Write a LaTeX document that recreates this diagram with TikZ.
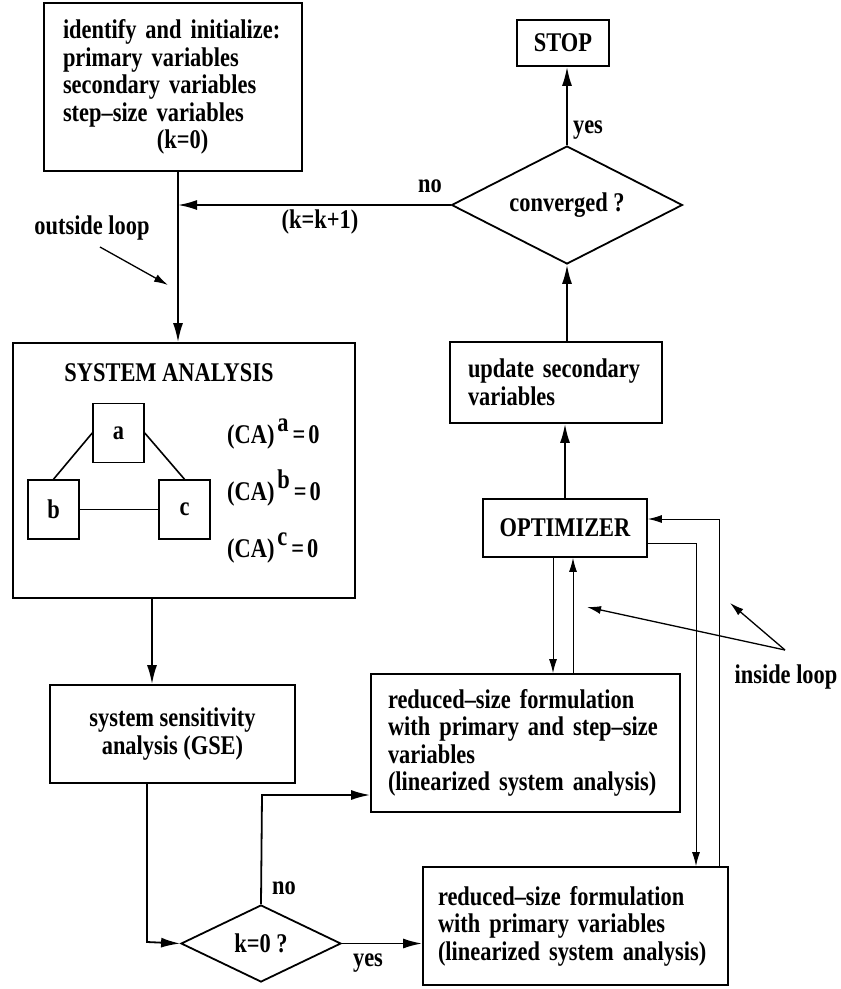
\documentclass[tikz,border=0pt]{standalone}
\usepackage{fontspec}
\setmainfont{Liberation Serif}[FakeStretch=0.83]
\usetikzlibrary{shapes.geometric,arrows.meta}
\begin{document}
\begin{tikzpicture}[x=1pt,y=-1pt,
  every node/.style={font=\fontsize{27}{27.5}\selectfont\bfseries},
  box/.style={draw, rectangle, line width=1.8pt, inner sep=0pt},
  lbox/.style={box, align=left},
  dec/.style={draw, diamond, line width=1.8pt, inner sep=0pt},
  small/.style={draw, rectangle, line width=1.5pt, inner sep=0pt, minimum width=51pt, minimum height=59pt},
  lab/.style={inner sep=0pt},
  thick arrow/.style={line width=1.8pt, -{Latex[length=19pt,width=10pt]}},
  thin arrow/.style={line width=1pt, -{Latex[length=14pt,width=8pt]}},
  thick line/.style={line width=1.6pt},
  thin line/.style={line width=1pt}]
\useasboundingbox (0,0) rectangle (841,989);

% nodes
\node[lbox, text width=220pt, inner xsep=19pt, minimum height=168pt] (init) at (173,87)
  {identify and initialize:\\primary variables\\secondary variables\\step–size variables\\\hspace*{94pt}(k=0)};
\node[box, minimum width=92pt, minimum height=46pt] (stop) at (563,43) {STOP};
\node[dec, aspect=1.96, minimum width=231pt, minimum height=118pt] (conv) at (567,205) {converged ?};
\node[lbox, text width=176pt, inner xsep=18pt, minimum height=81pt] (upd) at (556,382.5)
  {update secondary\\variables};
\node[box, minimum width=164pt, minimum height=58pt] (opt) at (565,528) {OPTIMIZER};
\node[lbox, text width=275pt, inner xsep=17pt, minimum height=138pt] (box1) at (525.5,743)
  {reduced–size formulation\\with primary and step–size\\variables\\(linearized system analysis)};
\node[lbox, text width=275pt, inner xsep=15pt, minimum height=118pt] (box2) at (575.5,926)
  {reduced–size formulation\\with primary variables\\(linearized system analysis)};
\node[box, minimum width=342pt, minimum height=255pt] (sa) at (184,470.5) {};
\node[lab] (satitle) at (169,373) {SYSTEM ANALYSIS};
\node[small] (a) at (118.5,433) {a};
\node[small] (b) at (53.5,509.5) {b};
\node[small] (c) at (184.5,509.5) {c};
\node[lab, anchor=base west] (eqa) at (227,443) {(CA)\hspace{3pt}\raisebox{12pt}{a}\hspace{4pt}=\hspace{3pt}0};
\node[lab, anchor=base west] (eqb) at (227,500) {(CA)\hspace{3pt}\raisebox{12pt}{b}\hspace{4pt}=\hspace{3pt}0};
\node[lab, anchor=base west] (eqc) at (227,557) {(CA)\hspace{3pt}\raisebox{12pt}{c}\hspace{4pt}=\hspace{3pt}0};
\node[box, align=center, minimum width=245pt, minimum height=98pt] (gse) at (172.5,734)
  {system sensitivity\\analysis (GSE)};
\node[dec, aspect=2.08, minimum width=160pt, minimum height=77pt] (kz) at (261,943.5) {k=0 ?};

% labels
\node[lab] (outl) at (92,228) {outside loop};
\node[lab] (kk) at (320,222) {(k=k+1)};
\node[lab] (no1) at (430,186) {no};
\node[lab] (yes1) at (588,130) {yes};
\node[lab] (no2) at (284,888) {no};
\node[lab] (yes2) at (368,963) {yes};
\node[lab] (inl) at (786,677) {inside loop};

% coordinates
\coordinate (mx) at (178,0);
\coordinate (p1) at (147,942);
\coordinate (p2) at (262,795);
\coordinate (q1) at (553,0);
\coordinate (q2) at (573,0);
\coordinate (r1) at (696,543);
\coordinate (r2) at (719,519);
\coordinate (ol1) at (100,247);
\coordinate (ol2) at (168,285);
\coordinate (il0) at (785,650);
\coordinate (il1) at (587,607);
\coordinate (il2) at (730,603);

% connectors
\draw[thick arrow] (init.south -| mx) -- (sa.north -| mx);
\draw[thick arrow] (conv.west) -- (conv.west -| mx);
\draw[thick arrow] (conv.north) -- (stop.south -| conv.north);
\draw[thick arrow] (upd.north -| conv.south) -- (conv.south);
\draw[thick arrow] (opt.north) -- (upd.south -| opt.north);
\draw[thick arrow] (sa.south -| 152,0) -- (gse.north -| 152,0);
\draw[thick arrow] (gse.south -| p1) -- (p1) -- (kz.west);
\draw[thick arrow] (kz.north) -- (p2) -- (p2 -| box1.west);
\draw[thick arrow] (kz.east) -- (kz.east -| box2.west);
\draw[thick line] (a.west) -- (b.north);
\draw[thick line] (a.east) -- (c.north);
\draw[thick line] (b.east) -- (c.west);
\draw[thin arrow] (opt.south -| q1) -- (box1.north -| q1);
\draw[thin arrow] (box1.north -| q2) -- (opt.south -| q2);
\draw[thin arrow] (r1 -| opt.east) -- (r1) -- (box2.north -| r1);
\draw[thin arrow] (box2.north -| r2) -- (r2) -- (r2 -| opt.east);
\draw[line width=1.3pt, -{Latex[length=14pt,width=8pt]}] (ol1) -- (ol2);
\draw[line width=1.3pt, -{Latex[length=14pt,width=8pt]}] (il0) -- (il1);
\draw[line width=1.3pt, -{Latex[length=14pt,width=8pt]}] (il0) -- (il2);
\end{tikzpicture}
\end{document}
